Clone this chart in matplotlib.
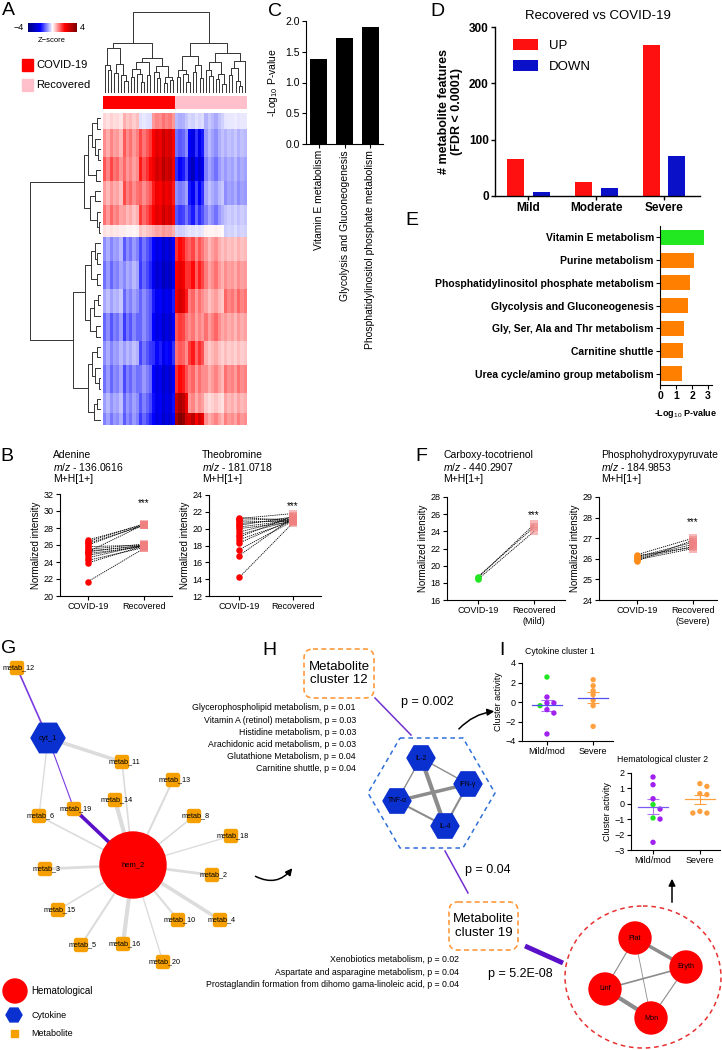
import matplotlib
matplotlib.use("Agg")
import matplotlib.pyplot as plt
import numpy as np
from matplotlib.colors import LinearSegmentedColormap, ListedColormap
from matplotlib.patches import (Circle, RegularPolygon, FancyBboxPatch,
                                FancyArrowPatch, Ellipse, Polygon, Rectangle)

plt.rcParams["font.family"] = ["Liberation Sans", "DejaVu Sans"]
plt.rcParams["mathtext.fontset"] = "custom"
plt.rcParams["mathtext.rm"] = "Liberation Sans"
plt.rcParams["mathtext.it"] = "Liberation Sans:italic"
plt.rcParams["mathtext.bf"] = "Liberation Sans:bold"

# ---------------- data ----------------
# A: heatmap, block z-scores (rows = row blocks, cols = column blocks)
col_block_sizes = [6, 5, 4, 7, 4, 5, 6, 7]          # 22 COVID-19 | 22 Recovered
row_block_sizes = [8, 14, 12, 12, 10, 6, 12, 14, 12, 14, 12, 14, 10, 6]
zscore_blocks = [
    [0.3, 0.5, -0.2, 0.8, -0.5, -0.3, -0.6, -0.2],
    [0.8, 1.0, 1.2, 2.0, -1.0, -2.0, -0.8, -0.6],
    [1.2, 0.9, 1.5, 2.2, -1.5, -2.5, -1.0, -0.8],
    [0.7, 1.1, 1.0, 1.8, -0.8, -1.8, -0.7, -0.9],
    [1.0, 0.6, 1.3, 2.0, -1.2, -1.5, -1.0, -0.5],
    [0.2, 0.1, 0.4, 0.6, -0.3, -0.2, 0.1, -0.4],
    [-0.8, -1.0, -1.2, -2.0, 1.5, 1.2, 0.8, 0.6],
    [-1.0, -0.7, -1.3, -2.2, 1.8, 1.6, 1.0, 0.9],
    [-0.6, -0.9, -1.0, -1.8, 2.0, 1.0, 0.7, 1.2],
    [-1.1, -1.2, -1.0, -2.0, 1.2, 0.9, 1.1, 0.8],
    [-0.8, -0.6, -1.2, -1.6, 1.0, 1.5, 0.6, 0.5],
    [-1.0, -1.1, -0.9, -2.0, 1.5, 1.0, 0.9, 1.1],
    [-0.7, -0.9, -1.1, -1.9, 2.5, 0.8, 0.4, 0.7],
    [-0.9, -1.0, -1.3, -2.0, 3.0, 2.5, 0.9, 1.0],
]
col_gain = [1.1, 0.8, 1.2, 0.9, 1.0, 0.7, 1.3, 0.9, 1.1, 0.8, 1.0,
            1.2, 0.9, 1.1, 1.3, 1.0, 1.2, 1.1, 1.4, 1.2, 1.3, 1.0,
            1.1, 1.3, 1.2, 0.9, 1.0, 1.2, 0.8, 1.1, 0.9, 1.0, 0.7,
            0.9, 1.1, 0.8, 0.6, 1.0, 0.8, 0.9, 0.7, 1.0, 0.8, 0.9]
groups = ["COVID-19"] * 22 + ["Recovered"] * 22

# dendrograms: [height, left, right], "x" = leaf
col_tree = [10,
            [6.2, [5.5, [3.5, "x", [2.8, "x", "x"]],
                   [3.6, [2.5, "x", "x"], [2.2, "x", [1.5, "x", "x"]]]],
                  [4.3, [3.8, [3.0, [2.0, "x", "x"], [2.4, "x", [1.4, "x", "x"]]], [2.2, "x", "x"]],
                   [3.3, [2.6, "x", [1.8, "x", "x"]], [2.0, [1.2, "x", "x"], [1.6, "x", "x"]]]]],
            [6.2, [4.6, [2.9, [2.0, "x", "x"], [2.3, "x", [1.3, "x", "x"]]],
                   [3.4, [2.6, "x", "x"], [1.9, "x", "x"]]],
                  [5.0, [3.8, [2.9, "x", [2.1, "x", "x"]], [2.4, [1.7, "x", "x"], [1.1, "x", "x"]]],
                   [3.9, [3.1, [2.2, "x", "x"], [1.5, "x", [0.9, "x", "x"]]], "x"]]]]
row_tree = [10,
            [2.4, [1.8, [1.2, [0.6, "x", "x"], [0.8, "x", [0.4, "x", "x"]]], [0.7, "x", "x"]],
             [1.5, [0.9, "x", "x"], [0.5, "x", [0.3, "x", "x"]]]],
            [3.9, [2.2, [1.4, [0.8, "x", [0.5, "x", "x"]], [0.6, "x", "x"]],
                   [1.6, [1.0, [0.4, "x", "x"], "x"], [0.7, "x", "x"]]],
             [1.9, [1.2, [0.6, "x", "x"], [0.9, "x", [0.3, "x", "x"]]],
                   [1.0, [0.5, "x", "x"], "x"]]]]

# B
adenine_covid = [26.6, 26.4, 26.2, 26.0, 25.8, 25.5, 25.3, 25.2, 25.2, 25.0, 24.8, 24.5, 24.2, 23.9, 21.7]
adenine_recov = [28.4, 28.5, 28.3, 28.4, 26.0, 26.1, 25.9, 28.4, 26.0, 25.8, 25.9, 26.0, 25.7, 25.9, 25.6]
theo_covid = [21.3, 21.2, 21.0, 20.8, 20.6, 20.4, 20.2, 20.0, 19.6, 19.3, 19.0, 18.7, 18.3, 17.5, 16.8, 14.2]
theo_recov = [21.0, 21.8, 21.2, 20.9, 21.1, 21.4, 21.0, 20.8, 21.2, 21.0, 21.5, 20.9, 21.1, 20.9, 21.3, 20.7]

# C
c_pathways = ["Vitamin E metabolism", "Glycolysis and Gluconeogenesis",
              "Phosphatidylinositol phosphate metabolism"]
c_values = [1.39, 1.72, 1.90]

# D
d_groups = ["Mild", "Moderate", "Severe"]
d_up = [65, 24, 268]
d_down = [7, 14, 71]

# E
e_pathways = ["Vitamin E metabolism", "Purine metabolism",
              "Phosphatidylinositol phosphate metabolism",
              "Glycolysis and Gluconeogenesis", "Gly, Ser, Ala and Thr metabolism",
              "Carnitine shuttle", "Urea cycle/amino group metabolism"]
e_values = [2.75, 2.1, 1.9, 1.75, 1.5, 1.45, 1.4]

# F
carboxy_covid = [18.6, 18.4, 18.7]
carboxy_recov = [24.8, 24.0, 24.5]
php_covid = [26.2, 26.1, 26.0, 25.95, 25.9, 26.05, 26.15]
php_recov = [27.0, 26.8, 26.6, 26.5, 26.9, 26.7, 26.55]

# G network (layout positions in figure pixels)
g_nodes = {
    "hem_2": (133, 865), "cyt_1": (48, 738),
    "metab_12": (17, 668), "metab_11": (122, 762), "metab_13": (173, 780),
    "metab_14": (115, 800), "metab_19": (74, 809), "metab_6": (39, 816),
    "metab_8": (194, 816), "metab_18": (231, 836), "metab_3": (45, 869),
    "metab_2": (212, 875), "metab_15": (58, 910), "metab_10": (178, 920),
    "metab_4": (220, 920), "metab_5": (81, 945), "metab_16": (123, 944),
    "metab_20": (163, 962),
}
g_edges = [("metab_12", "cyt_1", 1.2, "p"), ("cyt_1", "metab_19", 0.8, "p"),
           ("metab_19", "hem_2", 2.6, "P"), ("cyt_1", "metab_11", 2.6, "g"),
           ("cyt_1", "metab_6", 1.0, "g"), ("hem_2", "metab_11", 1.2, "g"),
           ("hem_2", "metab_14", 3.0, "g"), ("hem_2", "metab_13", 1.5, "g"),
           ("hem_2", "metab_8", 1.2, "g"), ("hem_2", "metab_18", 1.0, "g"),
           ("hem_2", "metab_2", 2.0, "g"), ("hem_2", "metab_4", 2.6, "g"),
           ("hem_2", "metab_10", 1.5, "g"), ("hem_2", "metab_20", 1.0, "g"),
           ("hem_2", "metab_16", 3.0, "g"), ("hem_2", "metab_5", 1.5, "g"),
           ("hem_2", "metab_15", 1.2, "g"), ("hem_2", "metab_3", 2.0, "g"),
           ("hem_2", "metab_6", 1.2, "g")]

# H
cyt_nodes = {"IL-2": (421, 758), "IFN-γ": (468, 784), "TNF-α": (397, 801), "IL-4": (445, 826)}
cyt_edges = [("IL-2", "IFN-γ", 1.0), ("IL-2", "IL-4", 3.0), ("IL-2", "TNF-α", 1.0),
             ("TNF-α", "IFN-γ", 2.5), ("TNF-α", "IL-4", 1.5), ("IFN-γ", "IL-4", 1.5)]
hem_nodes = {"Plat": (635, 938), "Eryth": (686, 967), "Linf": (605, 989), "Mon": (651, 1018)}
hem_edges = [("Plat", "Eryth", 2.5), ("Plat", "Linf", 0.8), ("Plat", "Mon", 0.6),
             ("Linf", "Eryth", 1.2), ("Linf", "Mon", 3.0), ("Eryth", "Mon", 0.8)]
cluster12_paths = ["Glycerophospholipid metabolism, p = 0.01",
                   "Vitamin A (retinol) metabolism, p = 0.03",
                   "Histidine metabolism, p = 0.03",
                   "Arachidonic acid metabolism, p = 0.03",
                   "Glutathione Metabolism, p = 0.04",
                   "Carnitine shuttle, p = 0.04"]
cluster19_paths = ["Xenobiotics metabolism, p = 0.02",
                   "Aspartate and asparagine metabolism, p = 0.04",
                   "Prostaglandin formation from dihomo gama-linoleic acid, p = 0.04"]

# I
cyt_mild = [2.56, 0.51, -0.10, -0.10, -0.38, -0.78, -1.13, -3.28]
cyt_mild_c = ["g", "p", "p", "p", "g", "p", "p", "p"]
cyt_severe = [2.29, 1.67, 1.16, 0.75, 0.17, -0.38, -2.50]
hem_mild = [1.74, 1.24, 0.33, -0.05, -0.34, -0.92, -0.99, -2.50]
hem_mild_c = ["p", "p", "p", "g", "p", "g", "p", "p"]
hem_severe = [1.31, 1.13, 0.66, 0.60, -0.49, -0.60, -0.60]

RED = "#FF0000"
PINK = "#FFC0CB"
PURPLE = "#A020F0"
GREEN = "#22E622"
ORANGE = "#FFA040"

W, H = 722, 1050
fig = plt.figure(figsize=(W / 100, H / 100), dpi=100)


def px_axes(x0, y0, x1, y1):
    ax = fig.add_axes([x0 / W, 1 - y1 / H, (x1 - x0) / W, (y1 - y0) / H])
    ax.set_facecolor("none")
    return ax


def prism_style(ax, fs=6.5, lw=0.8):
    for s in ("top", "right"):
        ax.spines[s].set_visible(False)
    for s in ("left", "bottom"):
        ax.spines[s].set_linewidth(lw)
    ax.tick_params(direction="out", length=3, width=lw, labelsize=fs, pad=1.5)


def tree_segments(node, leaves):
    if node == "x":
        leaves.append(len(leaves))
        return len(leaves) - 0.5, 0.0, []
    h, left, right = node
    lp, lh, ls = tree_segments(left, leaves)
    rp, rh, rs = tree_segments(right, leaves)
    seg = [(lp, lh), (lp, h), (rp, h), (rp, rh)]
    return (lp + rp) / 2, h, ls + rs + [seg]


# ---------------- A ----------------
zmat = np.repeat(np.repeat(np.array(zscore_blocks), row_block_sizes, axis=0),
                 col_block_sizes, axis=1) * np.array(col_gain)
cmap = LinearSegmentedColormap.from_list(
    "bwr_z", ["#00007A", "#0000FF", "#FFFFFF", "#FF0000", "#7A0000"])

ax_hm = px_axes(103, 113, 247, 425)
im = ax_hm.imshow(zmat, cmap=cmap, vmin=-4, vmax=4, aspect="auto", interpolation="nearest")
ax_hm.axis("off")

ax_grp = px_axes(103, 96, 247, 109)
grp_codes = [[0 if g == "COVID-19" else 1 for g in groups]]
ax_grp.imshow(grp_codes, cmap=ListedColormap([RED, PINK]), aspect="auto", interpolation="nearest")
ax_grp.axis("off")

ax_cd = px_axes(103, 12, 247, 93)
_, _, segs = tree_segments(col_tree, [])
for seg in segs:
    xs, ys = zip(*seg)
    ax_cd.plot(xs, ys, color="#333333", lw=0.7)
ax_cd.set_xlim(0, len(groups))
ax_cd.set_ylim(0, 10)
ax_cd.axis("off")

ax_rd = px_axes(30, 113, 101, 425)
row_leaves = []
_, _, segs = tree_segments(row_tree, row_leaves)
for seg in segs:
    ys, xs = zip(*seg)
    ax_rd.plot(xs, ys, color="#333333", lw=0.7)
ax_rd.set_xlim(10, 0)
ax_rd.set_ylim(len(row_leaves), 0)
ax_rd.axis("off")

cax = px_axes(28, 23, 77, 32)
cb = fig.colorbar(im, cax=cax, orientation="horizontal")
cb.set_ticks([])
cb.outline.set_visible(False)

# ---------------- B ----------------
def paired(ax, before, after, c_before, star_y):
    for b, a in zip(before, after):
        ax.plot([1, 2], [b, a], color="black", lw=0.6, ls=(0, (1.5, 1)), zorder=2)
    ax.scatter([1] * len(before), before, s=22, color=c_before, zorder=3, lw=0)
    ax.scatter([2] * len(after), after, s=36, marker="s", color="#F08080",
               alpha=0.55, zorder=3, lw=0)
    ax.text(2, star_y, "***", ha="center", va="center", fontsize=7)
    prism_style(ax)
    ax.set_ylabel("Normalized intensity", fontsize=7, labelpad=2)


ax_b1 = px_axes(60, 494, 172, 596)
paired(ax_b1, adenine_covid, adenine_recov, RED, 30.9)
ax_b1.set_ylim(20, 32)
ax_b1.set_yticks(range(20, 33, 2))
ax_b1.set_xlim(0.5, 2.5)
ax_b1.set_xticks([1, 2])
ax_b1.set_xticklabels(["COVID-19", "Recovered"])

ax_b2 = px_axes(209, 495, 321, 596)
paired(ax_b2, theo_covid, theo_recov, RED, 22.7)
ax_b2.set_ylim(12, 24)
ax_b2.set_yticks(range(12, 25, 2))
ax_b2.set_xlim(0.44, 2.52)
ax_b2.set_xticks([1, 2])
ax_b2.set_xticklabels(["COVID-19", "Recovered"])

# ---------------- C ----------------
ax_c = px_axes(306, 21, 383, 144)
ax_c.bar(range(len(c_values)), c_values, width=0.65, color="black")
prism_style(ax_c, fs=7.5)
ax_c.set_ylim(0, 2.0)
ax_c.set_yticks([0, 0.5, 1.0, 1.5, 2.0])
ax_c.set_yticklabels(["0.0", "0.5", "1.0", "1.5", "2.0"])
ax_c.set_xlim(-0.5, 2.5)
ax_c.set_xticks(range(len(c_values)))
ax_c.set_xticklabels(c_pathways, rotation=90, fontsize=7.5)
ax_c.set_ylabel(r"-Log$_{10}$ P-value", fontsize=7.5, labelpad=4)

# ---------------- D ----------------
ax_d = px_axes(495, 27, 700, 196)
xd = np.arange(len(d_groups))
ax_d.bar(xd - 0.19, d_up, width=0.25, color="#FF1010", label="UP")
ax_d.bar(xd + 0.19, d_down, width=0.25, color="#0A10C8", label="DOWN")
prism_style(ax_d, fs=8.5, lw=1.0)
ax_d.set_ylim(0, 300)
ax_d.set_yticks([0, 100, 200, 300])
ax_d.set_xlim(-0.49, 2.53)
ax_d.set_xticks(xd)
ax_d.set_xticklabels(d_groups)
for lab in ax_d.get_xticklabels() + ax_d.get_yticklabels():
    lab.set_fontweight("bold")
ax_d.set_ylabel("# metabolite features\n(FDR < 0.0001)", fontsize=9,
                fontweight="bold", labelpad=4)
ax_d.set_title("Recovered vs COVID-19", fontsize=9.5, pad=6)
ax_d.legend(loc="upper left", bbox_to_anchor=(0.03, 1.0), frameon=False,
            fontsize=9.5, handlelength=1.9, handleheight=0.9, labelspacing=0.6)

# ---------------- E ----------------
ax_e = px_axes(660, 226, 712, 385)
e_colors = ["#22E822"] + ["#FF8000"] * (len(e_values) - 1)
ax_e.barh(range(len(e_values)), e_values, height=0.66, color=e_colors)
prism_style(ax_e, fs=7.5)
ax_e.set_ylim(len(e_values) - 0.5, -0.5)
ax_e.set_xlim(0, 3.25)
ax_e.set_xticks([0, 1, 2, 3])
ax_e.set_yticks(range(len(e_values)))
ax_e.set_yticklabels(e_pathways)
for lab in ax_e.get_xticklabels() + ax_e.get_yticklabels():
    lab.set_fontweight("bold")
ax_e.set_xlabel(r"-Log$_{10}$ P-value", fontsize=6.5, fontweight="bold", labelpad=4)

# ---------------- F ----------------
ax_f1 = px_axes(447, 497, 565, 600)
paired(ax_f1, carboxy_covid, carboxy_recov, GREEN, 25.9)
ax_f1.set_ylim(16, 28)
ax_f1.set_yticks(range(16, 29, 2))
ax_f1.set_xlim(0.45, 2.55)
ax_f1.set_xticks([1, 2])
ax_f1.set_xticklabels(["COVID-19", "Recovered\n(Mild)"])

ax_f2 = px_axes(599, 497, 717, 600)
paired(ax_f2, php_covid, php_recov, "#FF8C1A", 27.8)
ax_f2.set_ylim(24, 29)
ax_f2.set_yticks(range(24, 30))
ax_f2.set_xlim(0.32, 2.43)
ax_f2.set_xticks([1, 2])
ax_f2.set_xticklabels(["COVID-19", "Recovered\n(Severe)"])

# ---------------- I ----------------
def swarm_offsets(values, thr, step):
    offs = []
    for i, v in enumerate(values):
        k = sum(1 for u in values[:i] if abs(u - v) < thr)
        offs.append(0 if k == 0 else (1 if k % 2 else -1) * ((k + 1) // 2) * step)
    return offs


def dot_panel(ax, mild, mild_c, severe, mean_colors, thr):
    cmap_pts = {"p": PURPLE, "g": GREEN}
    for pos, vals, cols, mcol, ecol in [
            (1, mild, [cmap_pts[c] for c in mild_c], mean_colors[0], "#B070F0"),
            (2, severe, [ORANGE] * len(severe), mean_colors[1], ORANGE)]:
        offs = swarm_offsets(vals, thr, 0.15)
        ax.scatter([pos + o for o in offs], vals, s=15, c=cols, lw=0, zorder=3)
        m = np.mean(vals)
        sem = np.std(vals, ddof=1) / np.sqrt(len(vals))
        ax.plot([pos - 0.32, pos + 0.32], [m, m], color=mcol, lw=0.9, zorder=4)
        ax.errorbar([pos], [m], yerr=[sem], color=ecol, lw=0.8, capsize=4,
                    capthick=0.8, zorder=2)
    prism_style(ax, fs=6.5)
    ax.set_xticks([1, 2])
    ax.set_xticklabels(["Mild/mod", "Severe"])
    ax.set_ylabel("Cluster activity", fontsize=6.5, labelpad=2)


ax_i1 = px_axes(522, 663, 613, 741)
dot_panel(ax_i1, cyt_mild, cyt_mild_c, cyt_severe, ["#5050EE", "#5050EE"], 0.35)
ax_i1.set_ylim(-4, 4)
ax_i1.set_yticks([-4, -2, 0, 2, 4])
ax_i1.set_xlim(0.46, 2.43)

ax_i2 = px_axes(631, 773, 720, 850)
dot_panel(ax_i2, hem_mild, hem_mild_c, hem_severe, ["#7A5AF0", "#FFA040"], 0.3)
ax_i2.set_ylim(-3, 2)
ax_i2.set_yticks([-3, -2, -1, 0, 1, 2])
ax_i2.set_xlim(0.53, 2.43)

# ---------------- canvas: labels, network, annotations ----------------
cv = fig.add_axes([0, 0, 1, 1])
cv.set_xlim(0, W)
cv.set_ylim(H, 0)
cv.axis("off")

for letter, (x, y) in {"A": (2, 2), "B": (0, 448), "C": (268, 3), "D": (430, 3),
                       "E": (405, 212), "F": (415, 448), "G": (1, 640),
                       "H": (262, 642), "I": (499, 642)}.items():
    cv.text(x, y, letter, fontsize=14, va="top", ha="left")

cv.text(525, 651, "Cytokine cluster 1", fontsize=6.3, va="center")
cv.text(617, 759, "Hematological cluster 2", fontsize=6.3, va="center")

# A legend
cv.text(24, 28, "\u22124", fontsize=6.5, ha="right", va="center")
cv.text(80, 28, "4", fontsize=6.5, ha="left", va="center")
cv.text(52, 40, "Z\u2212score", fontsize=5.5, ha="center", va="center")
cv.add_patch(Rectangle((22, 59), 11, 12, color=RED))
cv.add_patch(Rectangle((22, 79), 11, 12, color=PINK))
cv.text(36, 65.5, "COVID-19", fontsize=8, va="center")
cv.text(36, 85.5, "Recovered", fontsize=8, va="center")

# B / F metabolite titles
for x, name, mz in [(53, "Adenine", "136.0616"), (202, "Theobromine", "181.0718"),
                    (443, "Carboxy-tocotrienol", "440.2907"),
                    (601, "Phosphohydroxypyruvate", "184.9853")]:
    cv.text(x, 455, name, fontsize=7.5, va="center")
    cv.text(x, 467, r"$\it{m/z}$ - " + mz, fontsize=7.5, va="center")
    cv.text(x, 478.5, "M+H[1+]", fontsize=7.5, va="center")

# G network
edge_col = {"p": "#7A3BE0", "P": "#5A10C8", "g": "#DCDCDC"}
for a, b, w, c in g_edges:
    (x1, y1), (x2, y2) = g_nodes[a], g_nodes[b]
    cv.plot([x1, x2], [y1, y2], color=edge_col[c], lw=w, zorder=1, solid_capstyle="butt")
for name, (x, y) in g_nodes.items():
    if name.startswith("hem"):
        cv.add_patch(Circle((x, y), 33, color=RED, zorder=2))
        cv.text(x, y, name, fontsize=5.5, ha="center", va="center", zorder=3)
    elif name.startswith("cyt"):
        cv.add_patch(RegularPolygon((x, y), 6, radius=17, orientation=np.pi / 6,
                                    color="#0A30D0", zorder=2))
        cv.text(x, y, name, fontsize=5.5, ha="center", va="center", zorder=3)
    else:
        cv.add_patch(FancyBboxPatch((x - 6.5, y - 6.5), 13, 13,
                                    boxstyle="round,pad=0,rounding_size=2",
                                    color="#F5A000", zorder=2))
        cv.text(x + 2, y, name, fontsize=5.2, ha="center", va="center", zorder=3)

cv.add_patch(Circle((15, 991), 12, color=RED))
cv.add_patch(RegularPolygon((14, 1015), 6, radius=8, orientation=np.pi / 6, color="#0A30D0"))
cv.add_patch(Rectangle((10.5, 1030), 7, 7, color="#F5A000"))
cv.text(31, 991, "Hematological", fontsize=7, va="center")
cv.text(31, 1015, "Cytokine", fontsize=6.5, va="center")
cv.text(31, 1033, "Metabolite", fontsize=6.5, va="center")

# H: cluster boxes and links
for (x0, y0, x1, y1), txt in [((304, 649, 374, 698), "Metabolite\ncluster 12"),
                              ((449, 902, 518, 950), "Metabolite\ncluster 19")]:
    cv.add_patch(FancyBboxPatch((x0, y0), x1 - x0, y1 - y0,
                                boxstyle="round,pad=0,rounding_size=9", fill=False,
                                ec="#FF9A3C", lw=1.2, ls=(0, (3, 2))))
    cv.text((x0 + x1) / 2, (y0 + y1) / 2, txt, fontsize=9.5, ha="center",
            va="center", linespacing=1.15)

cv.plot([375, 411], [698, 735], color="#7030D0", lw=1.1)
cv.plot([445, 468], [851, 893], color="#7030D0", lw=1.1)
cv.plot([525, 563], [946, 963], color="#5A10C8", lw=3.5, solid_capstyle="butt")
cv.text(427, 702, "p = 0.002", fontsize=9, ha="center", va="center")
cv.text(488, 870, "p = 0.04", fontsize=9, ha="center", va="center")
cv.text(520, 974, "p = 5.2E-08", fontsize=9, ha="center", va="center")

for i, txt in enumerate(cluster12_paths):
    cv.text(356, 708 + i * 12.1, txt, fontsize=6.3, ha="right", va="center")
for i, txt in enumerate(cluster19_paths):
    cv.text(459, 960 + i * 12.4, txt, fontsize=6.3, ha="right", va="center")

# cytokine cluster
cv.add_patch(Polygon([(400, 738), (463, 738), (495, 793), (463, 848), (400, 848), (368, 793)],
                     closed=True, fill=False, ec="#2F6FD8", lw=1.1, ls=(0, (3, 2.5))))
for a, b, w in cyt_edges:
    (x1, y1), (x2, y2) = cyt_nodes[a], cyt_nodes[b]
    cv.plot([x1, x2], [y1, y2], color="#8C8C8C", lw=w, zorder=1)
for name, (x, y) in cyt_nodes.items():
    cv.add_patch(RegularPolygon((x, y), 6, radius=14, orientation=np.pi / 6,
                                color="#0A30D0", zorder=2))
    cv.text(x, y, name, fontsize=4.8, ha="center", va="center", zorder=3)

# hematological cluster
cv.add_patch(Ellipse((643, 977), 156, 142, fill=False, ec="#E83030", lw=1.1,
                     ls=(0, (3, 2.5))))
for a, b, w in hem_edges:
    (x1, y1), (x2, y2) = hem_nodes[a], hem_nodes[b]
    cv.plot([x1, x2], [y1, y2], color="#8C8C8C", lw=w, zorder=1)
for name, (x, y) in hem_nodes.items():
    cv.add_patch(Circle((x, y), 16, color=RED, zorder=2))
    cv.text(x, y, name, fontsize=5.2, ha="center", va="center", zorder=3)

# arrows
for (p0, p1, rad) in [((457, 731), (497, 711), -0.2), ((253, 875), (294, 866), 0.45),
                      ((672, 905), (672, 876), 0.0)]:
    cv.add_patch(FancyArrowPatch(p0, p1, connectionstyle=f"arc3,rad={rad}",
                                 arrowstyle="-|>", mutation_scale=10, color="black",
                                 lw=1.1))

fig.savefig("out.png", dpi=100)
